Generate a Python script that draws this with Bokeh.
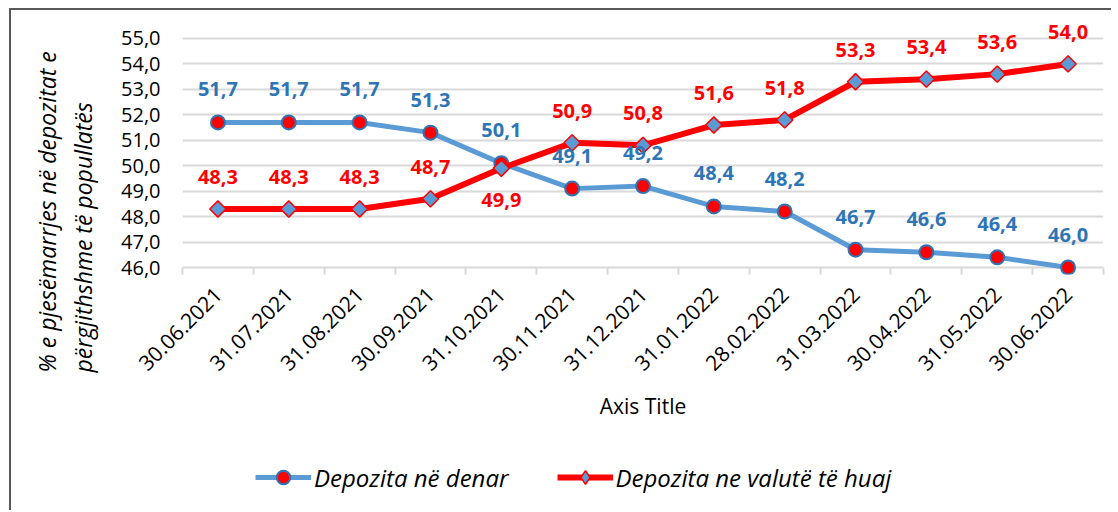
from math import pi
from bokeh.plotting import figure
from bokeh.layouts import column
from bokeh.models import (FixedTicker, Range1d, CustomJSTickFormatter, Legend, LegendItem,
                          ColumnDataSource, Title)
from bokeh.core.properties import value
from bokeh.embed import file_html
from bokeh.resources import INLINE

dates = ["30.06.2021", "31.07.2021", "31.08.2021", "30.09.2021", "31.10.2021",
         "30.11.2021", "31.12.2021", "31.01.2022", "28.02.2022", "31.03.2022",
         "30.04.2022", "31.05.2022", "30.06.2022"]
denar = [51.7, 51.7, 51.7, 51.3, 50.1, 49.1, 49.2, 48.4, 48.2, 46.7, 46.6, 46.4, 46.0]
foreign = [48.3, 48.3, 48.3, 48.7, 49.9, 50.9, 50.8, 51.6, 51.8, 53.3, 53.4, 53.6, 54.0]
y_ticks = [46, 47, 48, 49, 50, 51, 52, 53, 54, 55]
foreign_label_below = ["31.10.2021"]
series_names = ["Depozita në denar", "Depozita ne valutë të huaj"]
y_title = ["% e pjesëmarrjes në depozitat e", "përgjithshme të popullatës"]
x_title = "Axis Title"

FONT = "Open Sans"
BLUE_LINE = "#5B9BD5"
BLUE_TEXT = "#2E75B6"
RED = "#FF0000"
GRID = "#D9D9D9"
x = list(range(len(dates)))


def fmt(v):
    return f"{v:.1f}".replace(".", ",")


src_d = ColumnDataSource(dict(x=x, y=denar, t=[fmt(v) for v in denar],
                              off=[-33 for _ in denar]))
src_f = ColumnDataSource(dict(x=x, y=foreign, t=[fmt(v) for v in foreign],
                              off=[32 if d in foreign_label_below else -32 for d in dates]))

# frame a little larger than the 46-55 grid so that labels and markers are not cut
p = figure(width=1100, height=440, x_range=Range1d(-0.5, len(dates) - 0.5),
           y_range=Range1d(45.725, 55.786), output_backend="svg",
           toolbar_location=None, min_border_left=170, min_border_right=8,
           min_border_top=8, min_border_bottom=176)
p.outline_line_color = None
p.background_fill_color = "white"
p.border_fill_color = "white"

# x axis (its own line hidden: the 46 grid line plays that role)
xa = p.xaxis[0]
xa.ticker = FixedTicker(ticks=x, minor_ticks=[i - 0.5 for i in range(len(dates) + 1)])
xa.major_label_overrides = {i: d for i, d in enumerate(dates)}
xa.major_label_orientation = pi / 4
xa.major_tick_line_color = None
xa.major_tick_out = 0
xa.major_tick_in = 0
xa.minor_tick_out = 0
xa.minor_tick_in = 7
xa.minor_tick_line_color = GRID
xa.minor_tick_line_width = 2
xa.axis_line_color = None
xa.major_label_text_font = FONT
xa.major_label_text_font_size = "21px"
xa.major_label_text_color = "#000000"
xa.major_label_standoff = 16
xa.axis_label = x_title
xa.axis_label_text_font = FONT
xa.axis_label_text_font_style = "normal"
xa.axis_label_text_font_size = "21px"
xa.axis_label_text_color = "#000000"
xa.axis_label_standoff = 11
p.xgrid.visible = False

# y axis
ya = p.yaxis[0]
ya.ticker = FixedTicker(ticks=y_ticks)
ya.formatter = CustomJSTickFormatter(code="return tick.toFixed(1).replace('.', ',');")
ya.axis_line_color = None
ya.major_tick_line_color = None
ya.minor_tick_line_color = None
ya.major_tick_out = 0
ya.major_tick_in = 0
ya.major_label_standoff = 22
ya.major_label_text_font = FONT
ya.major_label_text_font_size = "20px"
ya.major_label_text_color = "#000000"
p.ygrid.ticker = FixedTicker(ticks=y_ticks)
p.ygrid.grid_line_color = GRID
p.ygrid.grid_line_width = 2

# y title (two lines)
yt = Title(text="\n".join(y_title), align="left", offset=-98, standoff=37,
           vertical_align="middle", text_font=FONT, text_font_style="italic",
           text_font_size="23px", text_color="#000000", text_line_height=1.12)
p.add_layout(yt, "left")

line_d = dict(line_color=BLUE_LINE, line_width=5)
mark_d = dict(marker="circle", size=14, fill_color=RED, line_color=BLUE_TEXT, line_width=2)
line_f = dict(line_color=RED, line_width=6)
mark_f = dict(marker="square", angle=pi / 4, size=11.5, fill_color=BLUE_LINE,
              line_color=RED, line_width=1.5)

# series
p.line("x", "y", source=src_d, **line_d)
p.scatter("x", "y", source=src_d, **mark_d)
p.line("x", "y", source=src_f, **line_f)
p.scatter("x", "y", source=src_f, **mark_f)

p.text("x", "y", text="t", source=src_d, y_offset="off", text_color=BLUE_TEXT,
       text_font=value(FONT), text_font_style="bold", text_font_size="20px",
       text_align="center", text_baseline="middle")
p.text("x", "y", text="t", source=src_f, y_offset="off", text_color=RED,
       text_font=value(FONT), text_font_style="bold", text_font_size="20px",
       text_align="center", text_baseline="middle")

# legend strip: the same series, drawn far outside its visible range
lg = figure(width=1100, height=60, x_range=Range1d(-0.5, len(dates) - 0.5),
            y_range=Range1d(1000, 1001), output_backend="svg", toolbar_location=None,
            min_border_left=170, min_border_right=8, min_border_top=0,
            min_border_bottom=6, x_axis_type=None, y_axis_type=None)
lg.outline_line_color = None
lg.grid.visible = False
l1 = lg.line("x", "y", source=src_d, **line_d)
m1 = lg.scatter("x", "y", source=src_d, **mark_d)
l2 = lg.line("x", "y", source=src_f, **line_f)
m2 = lg.scatter("x", "y", source=src_f, marker="diamond", fill_color=BLUE_LINE,
                line_color=RED, line_width=1.5)
legend = Legend(items=[LegendItem(label=series_names[0], renderers=[l1, m1]),
                       LegendItem(label=series_names[1], renderers=[l2, m2])],
                orientation="horizontal", location=(73, 10), glyph_width=56,
                glyph_height=34, label_standoff=3, spacing=48, padding=0, margin=0,
                border_line_color=None, background_fill_alpha=0,
                label_text_font=FONT, label_text_font_style="italic",
                label_text_font_size="24px", label_text_color="#000000")
lg.add_layout(legend)

layout = column(p, lg, spacing=0)
layout.styles = {"border-left": "2px solid #595959", "border-top": "2px solid #595959",
                 "margin-left": "9px", "margin-top": "8px"}

open("out.html", "w").write(file_html(layout, INLINE))
